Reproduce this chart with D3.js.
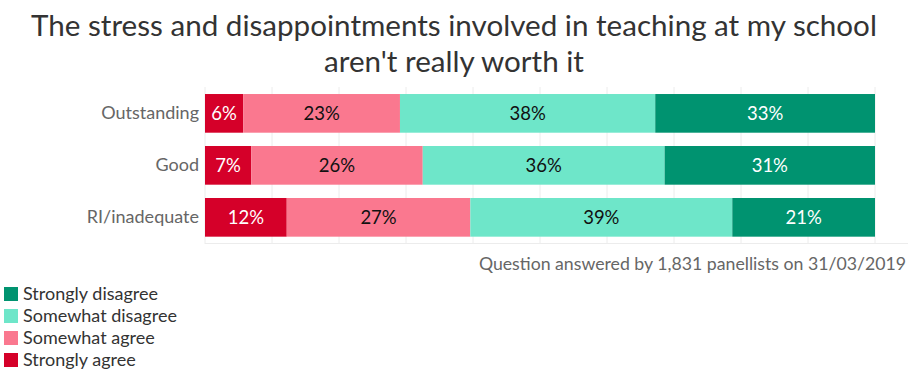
<!DOCTYPE html>
<html>
<head>
<meta charset="utf-8">
<script src="https://cdn.jsdelivr.net/npm/d3@7"></script>
<style>
  body { margin: 0; background: #fff; }
  svg { display: block; font-family: Lato, "Open Sans", sans-serif; }
</style>
</head>
<body>
<svg width="908" height="371"></svg>
<script>
// data
const categories = ["Outstanding", "Good", "RI/inadequate"];
const responses = ["Strongly agree", "Somewhat agree", "Somewhat disagree", "Strongly disagree"];
const stronglyAgree = [5.7, 6.9, 12.2];
const somewhatAgree = [23.4, 25.6, 27.4];
const somewhatDisagree = [38.1, 36.1, 39.1];
const stronglyDisagree = [32.8, 31.4, 21.3];
const xTicks = [0, 10, 20, 30, 40, 50, 60, 70, 80, 90, 100];
const colours = ["#d50029", "#fa788f", "#6ee6c9", "#009370"];
const labelColours = ["#fff", "#111", "#111", "#fff"];

const titleLines = ["The stress and disappointments involved in teaching at my school", "aren't really worth it"];
const footnote = "Question answered by 1,831 panellists on 31/03/2019";

const svg = d3.select("svg");

const rows = categories.map((c, i) => {
    const vals = [stronglyAgree[i], somewhatAgree[i], somewhatDisagree[i], stronglyDisagree[i]];
    const row = { category: c };
    responses.forEach((r, j) => row[r] = vals[j]);
    return row;
});
const stacked = d3.stack().keys(responses)(rows);

const x = d3.scaleLinear().domain([0, 100]).range([205, 875]);
const y = d3.scaleBand().domain(categories).range([87, 243.7]).paddingInner(0.256).paddingOuter(0.135);

// title
svg.append("g").selectAll("text")
    .data(titleLines)
    .join("text")
    .attr("x", 454)
    .attr("y", (d, i) => 36 + i * 36)
    .attr("text-anchor", "middle")
    .attr("font-size", "29.6px")
    .attr("fill", "#333")
    .text(d => d);

// grid
const grid = svg.append("g");
grid.selectAll("line")
    .data(xTicks)
    .join("line")
    .attr("x1", d => x(d)).attr("x2", d => x(d))
    .attr("y1", 87).attr("y2", 244)
    .attr("stroke", "#ececec")
    .attr("stroke-width", 1);
grid.append("line")
    .attr("x1", 205).attr("x2", 908)
    .attr("y1", 243.5).attr("y2", 243.5)
    .attr("stroke", "#ececec");

// bars
const series = svg.append("g").selectAll("g")
    .data(stacked)
    .join("g")
    .attr("fill", (d, i) => colours[i]);

series.selectAll("rect")
    .data(d => d)
    .join("rect")
    .attr("x", d => x(d[0]))
    .attr("width", d => x(d[1]) - x(d[0]))
    .attr("y", d => y(d.data.category))
    .attr("height", y.bandwidth());

const valueLabels = svg.append("g").selectAll("g")
    .data(stacked)
    .join("g")
    .attr("fill", (d, i) => labelColours[i]);

valueLabels.selectAll("text")
    .data(d => d)
    .join("text")
    .attr("x", d => (x(d[0]) + x(d[1])) / 2)
    .attr("y", d => y(d.data.category) + y.bandwidth() / 2)
    .attr("dy", "0.36em")
    .attr("text-anchor", "middle")
    .attr("font-size", "18.5px")
    .text(d => Math.round(d[1] - d[0]) + "%");

// category axis
const yAxis = svg.append("g")
    .attr("transform", "translate(205,0)")
    .call(d3.axisLeft(y).tickSize(0).tickPadding(6));
yAxis.select(".domain").remove();
yAxis.selectAll("text")
    .attr("font-family", "Lato, sans-serif")
    .attr("font-size", "18px")
    .attr("fill", "#666");

// footnote
svg.append("text")
    .attr("x", 906)
    .attr("y", 270)
    .attr("text-anchor", "end")
    .attr("font-size", "17.7px")
    .attr("fill", "#666")
    .text(footnote);

// legend
const legendOrder = responses.slice().reverse();
const legend = svg.append("g").selectAll("g")
    .data(legendOrder)
    .join("g")
    .attr("transform", (d, i) => `translate(4,${287 + i * 22})`);
legend.append("rect")
    .attr("width", 14).attr("height", 14)
    .attr("fill", d => colours[responses.indexOf(d)]);
legend.append("text")
    .attr("x", 19)
    .attr("y", 7)
    .attr("dy", "0.36em")
    .attr("font-size", "18px")
    .attr("fill", "#333")
    .text(d => d);
</script>
</body>
</html>
